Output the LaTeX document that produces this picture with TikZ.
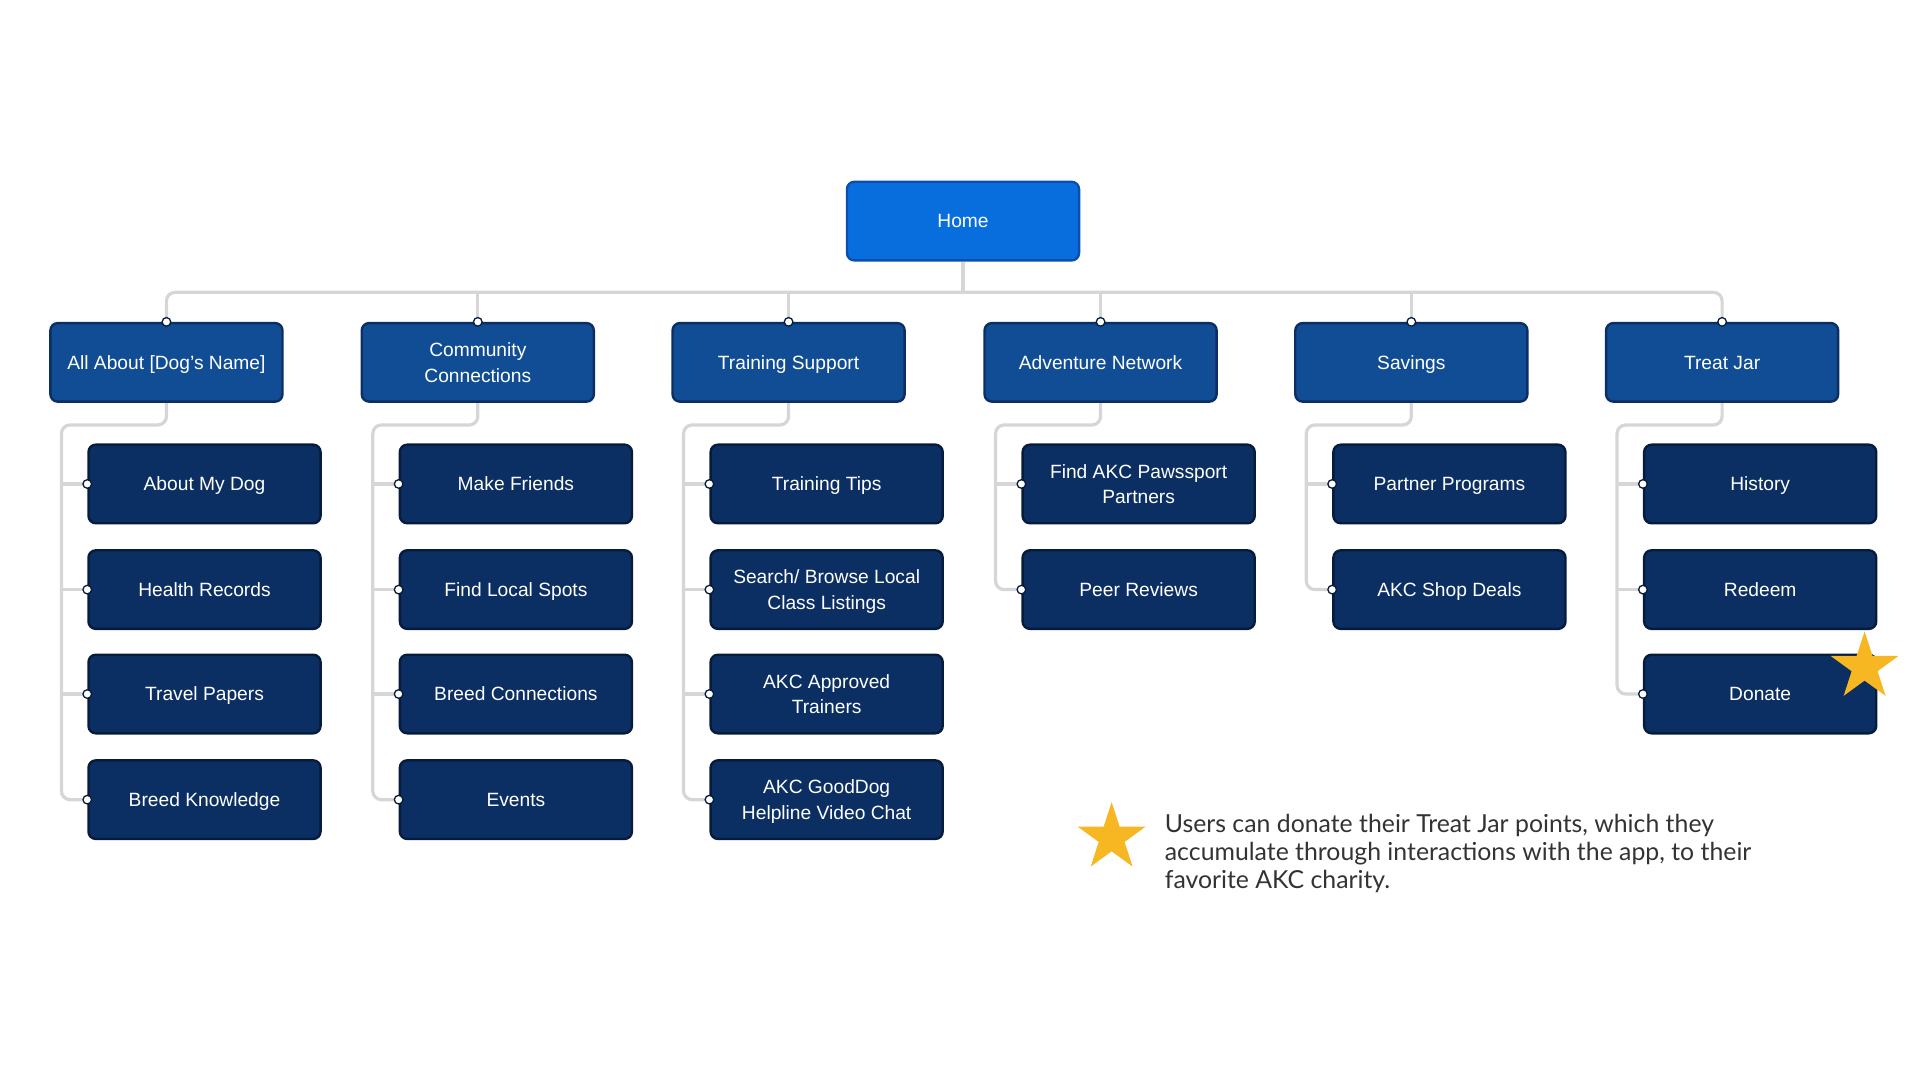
\documentclass[tikz,border=0pt]{standalone}
\usepackage{fontspec}
\setmainfont{Liberation Sans}
\newfontfamily\notefont{Lato}
\usetikzlibrary{shapes.geometric,backgrounds}
\definecolor{homeFill}{HTML}{086EDE}
\definecolor{homeDraw}{HTML}{0A4FAE}
\definecolor{sectionFill}{HTML}{114D94}
\definecolor{sectionDraw}{HTML}{0B2E63}
\definecolor{pageFill}{HTML}{0B2F62}
\definecolor{pageDraw}{HTML}{071B3C}
\definecolor{lineGray}{HTML}{D6D6D6}
\definecolor{starGold}{HTML}{F6B722}
\definecolor{noteText}{HTML}{333333}
\tikzset{
  box/.style={rectangle, rounded corners=0.12cm, line width=1.1pt, text=white,
    minimum width=3.78cm, minimum height=1.28cm, align=center,
    font={\fontsize{8.9}{11.9}\selectfont},
    execute at begin node={\rule{0pt}{9.2pt}},
    execute at end node={\rule[-3pt]{0pt}{3pt}}},
  twoLine/.style={text depth=0pt},
  homeNode/.style={box, fill=homeFill, draw=homeDraw},
  sectionNode/.style={box, fill=sectionFill, draw=sectionDraw},
  pageNode/.style={box, fill=pageFill, draw=pageDraw},
%  visitedPage/.style={box, fill=gray!40, draw},
  treeLine/.style={draw=lineGray, line width=1.5pt},
  joint/.style={fill=white, draw=pageDraw, line width=0.6pt},
  goldStar/.style={star, star points=5, star point ratio=2.618, fill=starGold,
    inner sep=0pt, minimum size=1.16cm}
}
\begin{document}
\begin{tikzpicture}[x=0.02cm, y=-0.02cm]
  \useasboundingbox (0,0) rectangle (1568,877);
  \node [homeNode] (home) at (784,180) {Home};
  \coordinate (bus) at (784,238);

  \node [sectionNode] (dog) at (135.5,295) {All About [Dog's Name]};
  \node [sectionNode, twoLine] (community) at (389,295) {Community\\Connections};
  \node [sectionNode] (training) at (642,295) {Training Support};
  \node [sectionNode] (adventure) at (896,295) {Adventure Network};
  \node [sectionNode] (savings) at (1149,295) {Savings};
  \node [sectionNode] (treat) at (1402,295) {Treat Jar};

  \node [pageNode] (aboutMyDog) at (166.5,394) {About My Dog};
  \node [pageNode] (healthRecords) at (166.5,480) {Health Records};
  \node [pageNode] (travelPapers) at (166.5,565) {Travel Papers};
  \node [pageNode] (breedKnowledge) at (166.5,651) {Breed Knowledge};

  \node [pageNode] (makeFriends) at (420,394) {Make Friends};
  \node [pageNode] (localSpots) at (420,480) {Find Local Spots};
  \node [pageNode] (breedConnections) at (420,565) {Breed Connections};
  \node [pageNode] (events) at (420,651) {Events};

  \node [pageNode] (trainingTips) at (673,394) {Training Tips};
  \node [pageNode, twoLine] (classListings) at (673,480) {Search/ Browse Local\\Class Listings};
  \node [pageNode, twoLine] (approvedTrainers) at (673,565) {AKC Approved\\Trainers};
  \node [pageNode, twoLine] (helpline) at (673,651) {AKC GoodDog\\Helpline Video Chat};

  \node [pageNode, twoLine] (pawssport) at (927,394) {Find AKC Pawssport\\Partners};
  \node [pageNode] (peerReviews) at (927,480) {Peer Reviews};

  \node [pageNode] (partnerPrograms) at (1180,394) {Partner Programs};
  \node [pageNode] (shopDeals) at (1180,480) {AKC Shop Deals};

  \node [pageNode] (history) at (1433,394) {History};
  \node [pageNode] (redeem) at (1433,480) {Redeem};
  \node [pageNode] (donate) at (1433,565) {Donate};

  \begin{scope}[on background layer]
    \draw [treeLine] (home.south) -- (bus);
    \draw [treeLine, rounded corners=0.14cm] (dog.north) |- (bus) -| (treat.north);
    \draw [treeLine] (community.north |- bus) -- (community.north);
    \draw [treeLine] (training.north |- bus) -- (training.north);
    \draw [treeLine] (adventure.north |- bus) -- (adventure.north);
    \draw [treeLine] (savings.north |- bus) -- (savings.north);
    % section to pages
    \draw [treeLine, rounded corners=0.14cm] (dog.south) -- ++(0,18) -- ++(-85.5,0) |- (breedKnowledge.west);
    \draw [treeLine, rounded corners=0.14cm] (community.south) -- ++(0,18) -- ++(-85.5,0) |- (events.west);
    \draw [treeLine, rounded corners=0.14cm] (training.south) -- ++(0,18) -- ++(-85.5,0) |- (helpline.west);
    \draw [treeLine, rounded corners=0.14cm] (adventure.south) -- ++(0,18) -- ++(-85.5,0) |- (peerReviews.west);
    \draw [treeLine, rounded corners=0.14cm] (savings.south) -- ++(0,18) -- ++(-85.5,0) |- (shopDeals.west);
    \draw [treeLine, rounded corners=0.14cm] (treat.south) -- ++(0,18) -- ++(-85.5,0) |- (donate.west);
    \foreach \n in {aboutMyDog,healthRecords,travelPapers,makeFriends,localSpots,
        breedConnections,trainingTips,classListings,approvedTrainers,pawssport,
        partnerPrograms,history,redeem}
      \draw [treeLine] (\n.west) -- ++(-22,0);
  \end{scope}

  \foreach \n in {dog,community,training,adventure,savings,treat}
    \draw [joint] (\n.north) circle [radius=0.07cm];
  \foreach \n in {aboutMyDog,healthRecords,travelPapers,breedKnowledge,makeFriends,
      localSpots,breedConnections,events,trainingTips,classListings,approvedTrainers,
      helpline,pawssport,peerReviews,partnerPrograms,shopDeals,history,redeem,donate}
    \draw [joint] (\n.west) circle [radius=0.07cm];

  \node [goldStar] (donateStar) at (1518,543) {};
  \node [goldStar] (noteStar) at (905,682) {};
  \node [anchor=west, align=left, text=noteText, inner sep=0pt,
    font={\notefont\fontsize{11.5}{13.1}\selectfont}] (note) at (948,695)
    {Users can donate their Treat Jar points, which they\\
     accumulate through interactions with the app, to their\\
     favorite AKC charity.};
\end{tikzpicture}
\end{document}
